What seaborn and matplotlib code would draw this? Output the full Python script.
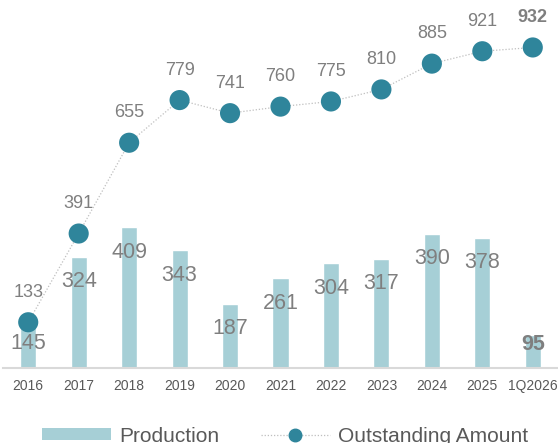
import numpy as np
import pandas as pd
import matplotlib
matplotlib.use("Agg")
import matplotlib.pyplot as plt
import seaborn as sns
from matplotlib.patches import Patch
from matplotlib.lines import Line2D

categories = ["2016", "2017", "2018", "2019", "2020", "2021", "2022", "2023", "2024", "2025", "1Q2026"]
production = [145, 324, 409, 343, 187, 261, 304, 317, 390, 378, 95]
outstanding = [133, 391, 655, 779, 741, 760, 775, 810, 885, 921, 932]

BAR_C = "#A6CFD6"
DOT_C = "#2F859B"
TXT_C = "#7F7F7F"
TICK_C = "#595959"

sns.set_theme(style="white")
plt.rcParams["font.family"] = ["Liberation Sans", "DejaVu Sans"]

fig = plt.figure(figsize=(5.58, 4.43), dpi=100)
ax = fig.add_axes([3/558, 75/443, 555/558, 368/443])

df = pd.DataFrame({"cat": categories, "prod": production, "out": outstanding, "pos": np.arange(len(categories))})

sns.barplot(data=df, x="cat", y="prod", color=BAR_C, width=0.32, saturation=1, ax=ax, zorder=2)
sns.lineplot(data=df, x="pos", y="out", color="#BFBFBF", linestyle=(0, (1, 1.5)), linewidth=0.9, ax=ax, zorder=3)
sns.scatterplot(data=df, x="pos", y="out", color=DOT_C, s=210, edgecolor="none", ax=ax, zorder=4)

ax.set_xlim(-0.5, 10.5)
ax.set_ylim(0, 1070)
ax.set_xlabel("")
ax.set_ylabel("")
ax.set_yticks([])
ax.set_xticks(range(len(categories)))
ax.set_xticklabels(categories, fontsize=10, color=TICK_C)
ax.tick_params(axis="x", length=0, pad=8)
for s in ["top", "right", "left"]:
    ax.spines[s].set_visible(False)
ax.spines["bottom"].set_color("#D9D9D9")
ax.spines["bottom"].set_linewidth(1.5)

for i, v in enumerate(production):
    last = i == len(production) - 1
    ax.annotate(str(v), (i, v), xytext=(0, -9 if last else -25), textcoords="offset pixels",
                ha="center", va="center", fontsize=15.5, color=TXT_C,
                fontweight="bold" if last else "normal", zorder=5)

for i, v in enumerate(outstanding):
    last = i == len(outstanding) - 1
    ax.annotate(str(v), (i, v), xytext=(0, 30), textcoords="offset pixels",
                ha="center", va="center", fontsize=13, color=TXT_C,
                fontweight="bold" if last else "normal", zorder=5)

handles = [Patch(facecolor=BAR_C, edgecolor="none"),
           Line2D([], [], color="#BFBFBF", linestyle=(0, (1, 1.5)), linewidth=0.9,
                  marker="o", markersize=9, markerfacecolor=DOT_C, markeredgecolor=DOT_C)]
leg = fig.legend(handles, ["Production", "Outstanding Amount"], loc="center",
                 bbox_to_anchor=(285/558, 7/443), ncol=2, frameon=False, fontsize=15,
                 handlelength=3.3, handleheight=0.55, handletextpad=0.4, columnspacing=2.0)
for t in leg.get_texts():
    t.set_color(TICK_C)

fig.savefig("out.png", dpi=100)
